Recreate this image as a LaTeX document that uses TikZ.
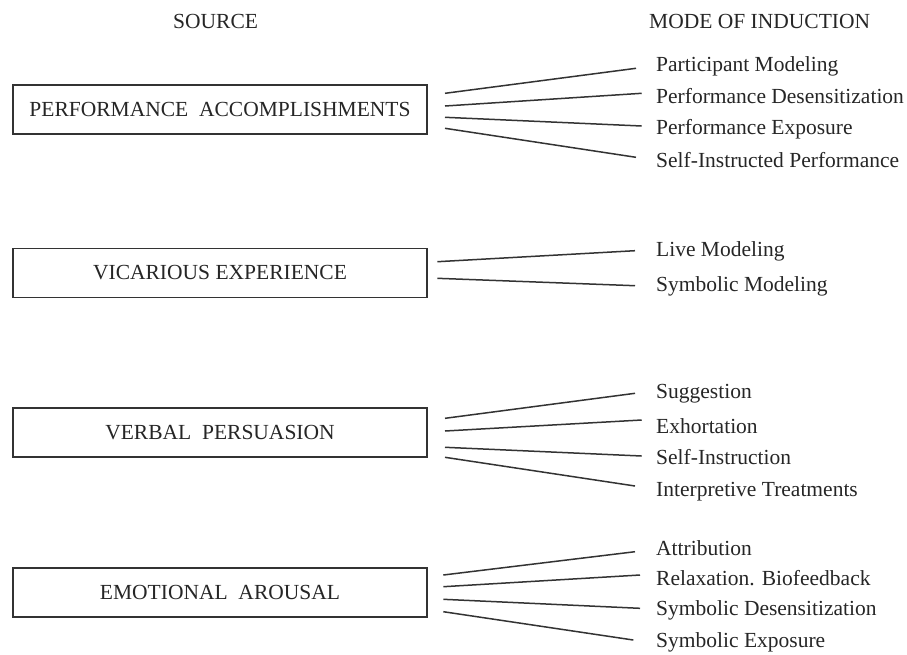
\documentclass[tikz,border=0pt]{standalone}
\usepackage{fontspec}
\setmainfont{Liberation Serif}
\begin{document}
\begin{tikzpicture}[x=1pt,y=-1pt,
  txt/.style={font=\fontsize{21.5}{24}\selectfont, text=black!85, inner sep=0pt},
  head/.style={txt, anchor=base west},
  source/.style={txt, draw=black!80, line width=1.5pt, minimum width=414pt, minimum height=49pt},
  mode/.style={txt, anchor=base west},
  link/.style={draw=black!80, line width=1.5pt}]
  % page
  \path[use as bounding box, fill=white] (0,0) rectangle (907,654);

  % column headings
  \node[head] (hsrc) at (173,28) {SOURCE};
  \node[head] (hmode) at (649,28) {MODE OF INDUCTION};

  % sources
  \node[source] (pa) at (220,109.5) {PERFORMANCE\ \ ACCOMPLISHMENTS};
  \node[source] (ve) at (220,273) {VICARIOUS EXPERIENCE};
  \node[source] (vp) at (220,432.5) {VERBAL\ \ PERSUASION};
  \node[source] (ea) at (220,592.5) {EMOTIONAL\ \ AROUSAL};

  % modes of induction
  \node[mode] (m11) at (656,71) {Participant Modeling};
  \node[mode] (m12) at (656,103) {Performance Desensitization};
  \node[mode] (m13) at (656,134) {Performance Exposure};
  \node[mode] (m14) at (656,167) {Self-Instructed Performance};

  \node[mode] (m21) at (656,256) {Live Modeling};
  \node[mode] (m22) at (656,291) {Symbolic Modeling};

  \node[mode] (m31) at (656,398) {Suggestion};
  \node[mode] (m32) at (656,433) {Exhortation};
  \node[mode] (m33) at (656,464) {Self-Instruction};
  \node[mode] (m34) at (656,496) {Interpretive Treatments};

  \node[mode] (m41) at (656,555) {Attribution};
  \node[mode] (m42) at (656,585) {Relaxation. Biofeedback};
  \node[mode] (m43) at (656,615) {Symbolic Desensitization};
  \node[mode] (m44) at (656,647) {Symbolic Exposure};

  % connector end points
  \coordinate (s11) at (445,93.3);  \coordinate (e11) at (636,68.3);
  \coordinate (s12) at (445,106);   \coordinate (e12) at (641.7,93.3);
  \coordinate (s13) at (445,117.3); \coordinate (e13) at (641.7,126);
  \coordinate (s14) at (445,128.3); \coordinate (e14) at (636,157.3);

  \coordinate (s21) at (437.3,261.7); \coordinate (e21) at (635,250.7);
  \coordinate (s22) at (437.3,278.3); \coordinate (e22) at (635,285.7);

  \coordinate (s31) at (445,418.3); \coordinate (e31) at (635,393.3);
  \coordinate (s32) at (445,431);   \coordinate (e32) at (641.7,420);
  \coordinate (s33) at (445,447.3); \coordinate (e33) at (641.7,456);
  \coordinate (s34) at (445,457.3); \coordinate (e34) at (635,486);

  \coordinate (s41) at (443.3,575);   \coordinate (e41) at (635,551.7);
  \coordinate (s42) at (443.3,586.7); \coordinate (e42) at (640,575);
  \coordinate (s43) at (443.3,599.3); \coordinate (e43) at (640,608.3);
  \coordinate (s44) at (443.3,611.7); \coordinate (e44) at (633.3,640);

  % connectors
  \foreach \g/\n in {1/4,2/2,3/4,4/4}{
    \foreach \k in {1,...,\n}{
      \draw[link] (s\g\k) -- (e\g\k);
    }
  }
\end{tikzpicture}
\end{document}
